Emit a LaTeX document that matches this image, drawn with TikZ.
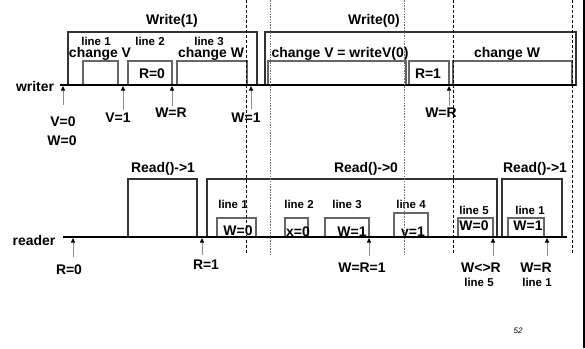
\documentclass[tikz,border=0pt]{standalone}
\usepackage{fontspec}
\setmainfont{Liberation Sans}
\usetikzlibrary{arrows.meta}
\tikzset{
  lbl/.style={font=\fontsize{14}{16}\selectfont\bfseries, inner sep=0pt, anchor=base},
  lnlbl/.style={font=\fontsize{11.5}{13}\selectfont\bfseries, inner sep=0pt, anchor=base},
  outerbox/.style={draw=black!80, line width=1.1bp, inner sep=0pt, outer sep=0pt, anchor=south west},
  innerbox/.style={draw=black!60, line width=1.1bp, inner sep=0pt, outer sep=0pt, anchor=south west},
  timeline/.style={line width=1.4bp, black},
  event/.style={draw=black!45, line width=1bp, -{Triangle[length=4.5bp,width=4bp,color=black]}},
  sepblack/.style={line width=0.8bp, black, dash pattern=on 3bp off 2bp},
  sepgray/.style={line width=0.9bp, black!55, dash pattern=on 1.5bp off 1.2bp},
}
\begin{document}
\begin{tikzpicture}[x=1bp, y=-1bp]
\useasboundingbox (0,0) rectangle (585,348);

% ---------- writer process ----------
\node[outerbox, minimum width=189bp, minimum height=53bp] (w1) at (68,85) {};
\node[innerbox, minimum width=35bp, minimum height=24bp] (w1a) at (83,85) {};
\node[innerbox, minimum width=44bp, minimum height=24bp] (w1b) at (128,85) {};
\node[innerbox, minimum width=70bp, minimum height=24bp] (w1c) at (177,85) {};

\node[outerbox, minimum width=311bp, minimum height=53bp] (w0) at (265,85) {};
\node[innerbox, minimum width=138bp, minimum height=24bp] (w0a) at (268,85) {};
\node[innerbox, minimum width=40bp, minimum height=24bp] (w0b) at (409,85) {};
\node[innerbox, minimum width=119bp, minimum height=24bp] (w0c) at (453,85) {};

\node[lbl] (write1) at (172,24) {Write(1)};
\node[lbl] (write0) at (374,24) {Write(0)};
\node[lnlbl] (wl1) at (96,45) {line 1};
\node[lnlbl] (wl2) at (150,45) {line 2};
\node[lnlbl] (wl3) at (209,45) {line 3};
\node[lbl] (chV) at (100,57.5) {change V};
\node[lbl] (chW) at (211,57.5) {change W};
\node[lbl] (chV0) at (340,57.5) {change V = writeV(0)};
\node[lbl] (chW0) at (507,57.5) {change W};
\node[lbl] (R0in) at (152,78) {R=0};
\node[lbl] (R1in) at (428,78) {R=1};

\node[lbl] (writer) at (35,91) {writer};
\coordinate (wstart) at (60,85);
\coordinate (wend) at (576,85);
\draw[timeline] (wstart) -- (wend);

\coordinate (tw1) at (63,86);
\coordinate (tw2) at (123,86);
\coordinate (tw3) at (172,86);
\coordinate (tw4) at (251,86);
\coordinate (tw5) at (449,86);

\node[lbl] (V0) at (63,126) {V=0};
\node[lbl] (W0) at (62,145) {W=0};
\node[lbl] (V1) at (118,122) {V=1};
\node[lbl] (WRa) at (171,117) {W=R};
\node[lbl] (W1) at (246,122) {W=1};
\node[lbl] (WRb) at (441,117) {W=R};

\draw[event, shorten <=11bp] (V0.north -| tw1) -- (tw1);
\draw[event, shorten <=2bp] (V1.north -| tw2) -- (tw2);
\draw[event, shorten <=1bp] (WRa.north -| tw3) -- (tw3);
\draw[event, shorten <=3bp] (W1.north -| tw4) -- (tw4);
\draw[event, shorten <=1bp] (WRb.north -| tw5) -- (tw5);

% ---------- reader process ----------
\node[outerbox, minimum width=69bp, minimum height=58bp] (r1) at (128,237) {};
\node[outerbox, minimum width=290bp, minimum height=58bp] (r0) at (207,237) {};
\node[outerbox, minimum width=60bp, minimum height=58bp] (r2) at (502,237) {};

\node[innerbox, minimum width=39bp, minimum height=19bp] (ra) at (217,237) {};
\node[innerbox, minimum width=23bp, minimum height=19bp] (rb) at (285,237) {};
\node[innerbox, minimum width=44bp, minimum height=19bp] (rc) at (325,237) {};
\node[innerbox, minimum width=34bp, minimum height=24bp] (rd) at (394,237) {};
\node[innerbox, minimum width=35bp, minimum height=19bp] (re) at (458,237) {};
\node[innerbox, minimum width=36bp, minimum height=19bp] (rf) at (508,237) {};

\node[lbl] (read1a) at (163,172) {Read()->1};
\node[lbl] (read0) at (366,172) {Read()->0};
\node[lbl] (read1b) at (535,172) {Read()->1};

\node[lnlbl] (rl1) at (233,208) {line 1};
\node[lnlbl] (rl2) at (299,208) {line 2};
\node[lnlbl] (rl3) at (347,208) {line 3};
\node[lnlbl] (rl4) at (411,208) {line 4};
\node[lnlbl] (rl5) at (474,214) {line 5};
\node[lnlbl] (rl1b) at (530,214) {line 1};

\node[lbl] (ta) at (238,235) {W=0};
\node[lbl] (tb) at (298,236) {x=0};
\node[lbl] (tc) at (352,236) {W=1};
\node[lbl] (td) at (413,236) {v=1};
\node[lbl] (te) at (474,230) {W=0};
\node[lbl] (tf) at (528,230) {W=1};

\node[lbl] (reader) at (34,245) {reader};
\coordinate (rstart) at (63,237);
\coordinate (rend) at (567,237);
\draw[timeline] (rstart) -- (rend);

\coordinate (tr1) at (73,238);
\coordinate (tr2) at (202,238);
\coordinate (tr3) at (369,238);
\coordinate (tr4) at (493,238);
\coordinate (tr5) at (547,238);

\node[lbl] (R0) at (69,274) {R=0};
\node[lbl] (R1) at (206,269) {R=1};
\node[lbl] (WR1) at (362,272) {W=R=1};
\node[lbl] (WneR) at (481,272) {W<>R};
\node[lnlbl] (l5) at (479,286) {line 5};
\node[lbl] (WRc) at (536,272) {W=R};
\node[lnlbl] (l1) at (537,286) {line 1};

\draw[event, shorten <=7bp] (R0.north -| tr1) -- (tr1);
\draw[event, shorten <=4bp] (R1.north -| tr2) -- (tr2);
\draw[event, shorten <=6bp] (WR1.north -| tr3) -- (tr3);
\draw[event, shorten <=6bp] (WneR.north -| tr4) -- (tr4);
\draw[event, shorten <=6bp] (WRc.north -| tr5) -- (tr5);

% ---------- moments that separate the phases ----------
\foreach \xx in {246,453,572}
  \draw[sepblack] (\xx,0) -- (\xx,254);
\foreach \xx in {270,404}
  \draw[sepgray] (\xx,0) -- (\xx,254);

% page edge and page number
\draw[line width=1.5bp] (584,0) -- (584,348);
\node[font=\fontsize{8}{9}\selectfont\itshape, inner sep=0pt, anchor=base] (page) at (518,333) {52};
\end{tikzpicture}
\end{document}
